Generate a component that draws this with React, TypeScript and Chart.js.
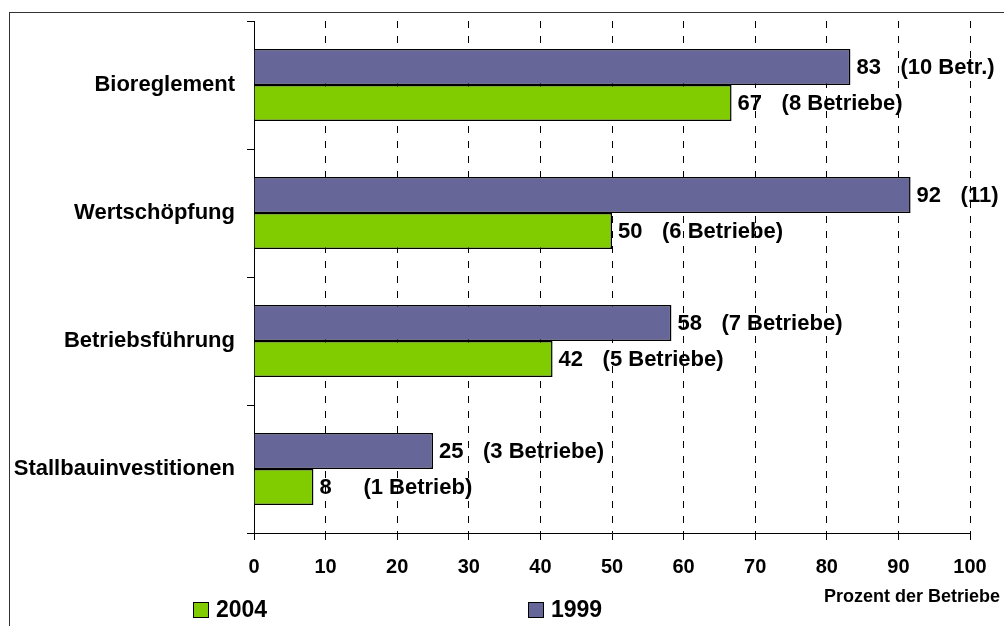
import React, { useEffect, useRef } from "react";
import { Chart, registerables } from "chart.js";

Chart.register(...registerables);

const categories = ["Bioreglement", "Wertschöpfung", "Betriebsführung", "Stallbauinvestitionen"];
const values1999 = [83.3, 91.7, 58.3, 25.0];
const values2004 = [66.7, 50.0, 41.7, 8.3];
const notes1999 = ["(10 Betr.)", "(11)", "(7 Betriebe)", "(3 Betriebe)"];
const notes2004 = ["(8 Betriebe)", "(6 Betriebe)", "(5 Betriebe)", "(1 Betrieb)"];
const seriesLabels = ["1999", "2004"];
const axisTitle = "Prozent der Betriebe";
const xTicks = [0, 10, 20, 30, 40, 50, 60, 70, 80, 90, 100];

const FONT = "'Liberation Sans', Arial, sans-serif";
const PURPLE = "#666699";
const GREEN = "#80CC00";

const notesByDataset = [notes1999, notes2004];

const decorPlugin = {
  id: "decor",
  beforeDraw(chart: any) {
    const ctx = chart.ctx;
    ctx.save();
    ctx.fillStyle = "#ffffff";
    ctx.fillRect(0, 0, chart.width, chart.height);
    ctx.strokeStyle = "#333333";
    ctx.lineWidth = 1;
    ctx.strokeRect(9.5, 12.5, 2000, 2000);
    ctx.restore();
  },
  afterDatasetsDraw(chart: any) {
    const ctx = chart.ctx;
    ctx.save();
    ctx.font = `bold 22px ${FONT}`;
    ctx.fillStyle = "#000";
    ctx.textBaseline = "middle";
    ctx.textAlign = "left";
    chart.data.datasets.forEach((ds: any, di: number) => {
      const meta = chart.getDatasetMeta(di);
      meta.data.forEach((bar: any, i: number) => {
        const v = Math.round(ds.data[i]);
        ctx.fillText(String(v), bar.x + 6, bar.y + 1);
        ctx.fillText(notesByDataset[di][i], bar.x + 50, bar.y + 1);
      });
    });
    ctx.restore();
  },
  afterDraw(chart: any) {
    const ctx = chart.ctx;
    ctx.save();
    ctx.font = `bold 18px ${FONT}`;
    ctx.fillStyle = "#000";
    ctx.textAlign = "right";
    ctx.textBaseline = "middle";
    ctx.fillText(axisTitle, 1000, 597);
    const items = [
      { label: seriesLabels[1], color: GREEN, x: 193 },
      { label: seriesLabels[0], color: PURPLE, x: 528 },
    ];
    ctx.font = `bold 23px ${FONT}`;
    ctx.textAlign = "left";
    items.forEach((it) => {
      ctx.fillStyle = it.color;
      ctx.fillRect(it.x, 602, 16, 16);
      ctx.strokeStyle = "#000";
      ctx.lineWidth = 1;
      ctx.strokeRect(it.x + 0.5, 602.5, 15, 15);
      ctx.fillStyle = "#000";
      ctx.fillText(it.label, it.x + 23, 611);
    });
    ctx.restore();
  },
};

export default function App() {
  const ref = useRef<HTMLCanvasElement>(null);
  useEffect(() => {
    if (!ref.current) return;
    const chart = new Chart(ref.current, {
      type: "bar",
      data: {
        labels: categories,
        datasets: [
          {
            label: seriesLabels[0],
            data: values1999,
            backgroundColor: PURPLE,
            borderColor: "#000",
            borderWidth: 1.5,
            categoryPercentage: 0.5625,
            barPercentage: 1.0,
          },
          {
            label: seriesLabels[1],
            data: values2004,
            backgroundColor: GREEN,
            borderColor: "#000",
            borderWidth: 1.5,
            categoryPercentage: 0.5625,
            barPercentage: 1.0,
          },
        ],
      },
      options: {
        indexAxis: "y",
        animation: false,
        responsive: false,
        layout: { padding: { left: 0, right: 34, top: 21, bottom: 0 } },
        plugins: {
          legend: { display: false },
          tooltip: { enabled: false },
        },
        scales: {
          x: {
            type: "linear",
            min: 0,
            max: 100,
            afterBuildTicks: (scale: any) => {
              scale.ticks = xTicks.map((v) => ({ value: v }));
            },
            afterFit: (scale: any) => {
              scale.height = 93;
            },
            ticks: {
              color: "#000",
              font: { family: FONT, size: 20, weight: "bold" },
              padding: 15,
              maxRotation: 0,
            },
            grid: {
              color: "#000",
              lineWidth: 1,
              tickLength: 7,
              tickColor: "#000",
              tickBorderDash: [],
              borderDash: [7, 8],
            } as any,
            border: { display: true, color: "#000", width: 1, dash: [7, 8] } as any,
          },
          y: {
            type: "category",
            offset: true,
            afterFit: (scale: any) => {
              scale.width = 254;
              scale.paddingTop = 0;
              scale.paddingBottom = 0;
            },
            ticks: {
              color: "#000",
              font: { family: FONT, size: 22, weight: "bold" },
              padding: 12,
            },
            grid: {
              drawOnChartArea: false,
              offset: true,
              tickLength: 7,
              color: "#000",
              tickColor: "#000",
            },
            border: { display: true, color: "#000", width: 1 },
          },
        },
      },
      plugins: [decorPlugin],
    } as any);
    return () => chart.destroy();
  }, []);
  return (
    <div style={{ position: "absolute", left: 0, top: 0, width: 1004, height: 626 }}>
      <canvas ref={ref} width={1004} height={626} style={{ display: "block" }} />
    </div>
  );
}
